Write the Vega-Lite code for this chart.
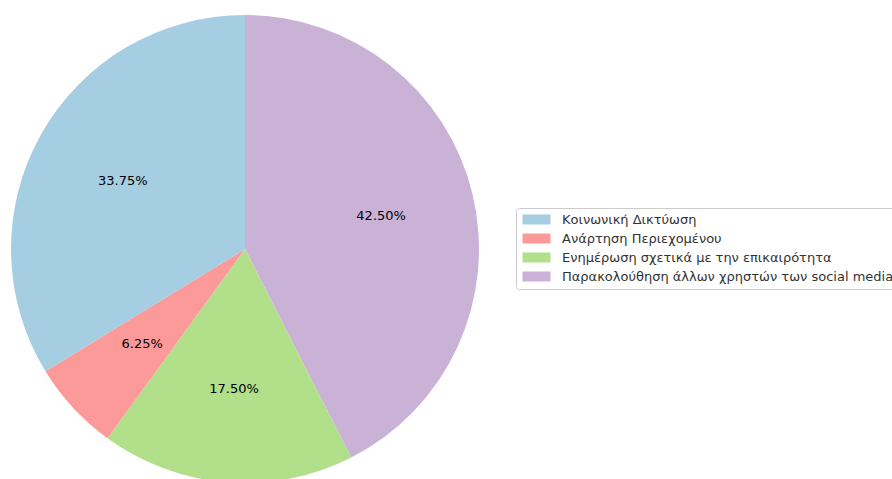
{
  "$schema": "https://vega.github.io/schema/vega-lite/v6.json",
  "width": 490,
  "height": 498,
  "padding": 0,
  "autosize": {"type": "pad"},
  "background": "white",
  "config": {"view": {"stroke": null}, "font": "DejaVu Sans"},
  "data": {
    "values": [
      {"activity": "Παρακολούθηση άλλων χρηστών των social media", "value": 42.5, "label": "42.50%", "ord": 1},
      {"activity": "Ενημέρωση σχετικά με την επικαιρότητα", "value": 17.5, "label": "17.50%", "ord": 2},
      {"activity": "Ανάρτηση Περιεχομένου", "value": 6.25, "label": "6.25%", "ord": 3},
      {"activity": "Κοινωνική Δικτύωση", "value": 33.75, "label": "33.75%", "ord": 4}
    ]
  },
  "encoding": {
    "theta": {"field": "value", "type": "quantitative", "stack": true},
    "order": {"field": "ord", "type": "quantitative"}
  },
  "layer": [
    {
      "mark": {"type": "arc", "outerRadius": 234},
      "encoding": {
        "color": {
          "field": "activity",
          "type": "nominal",
          "scale": {
            "domain": ["Κοινωνική Δικτύωση", "Ανάρτηση Περιεχομένου", "Ενημέρωση σχετικά με την επικαιρότητα", "Παρακολούθηση άλλων χρηστών των social media"],
            "range": ["#a6cee3", "#fb9a99", "#b2df8a", "#cab2d6"]
          },
          "legend": {
            "title": null,
            "orient": "none",
            "legendX": 516,
            "legendY": 208,
            "padding": 5,
            "strokeColor": "#cccccc",
            "fillColor": "white",
            "cornerRadius": 3,
            "symbolType": "M-1,-1L4.6,-1L4.6,1L-1,1Z",
            "symbolSize": 100,
            "symbolStrokeWidth": 0,
            "symbolOpacity": 1,
            "labelFont": "DejaVu Sans",
            "labelFontSize": 13,
            "labelColor": "#333333",
            "labelOffset": 28,
            "labelLimit": 500,
            "rowPadding": 5
          }
        }
      }
    },
    {
      "mark": {"type": "text", "radius": 140, "font": "DejaVu Sans", "fontSize": 13, "color": "black"},
      "encoding": {"text": {"field": "label", "type": "nominal"}}
    }
  ]
}
